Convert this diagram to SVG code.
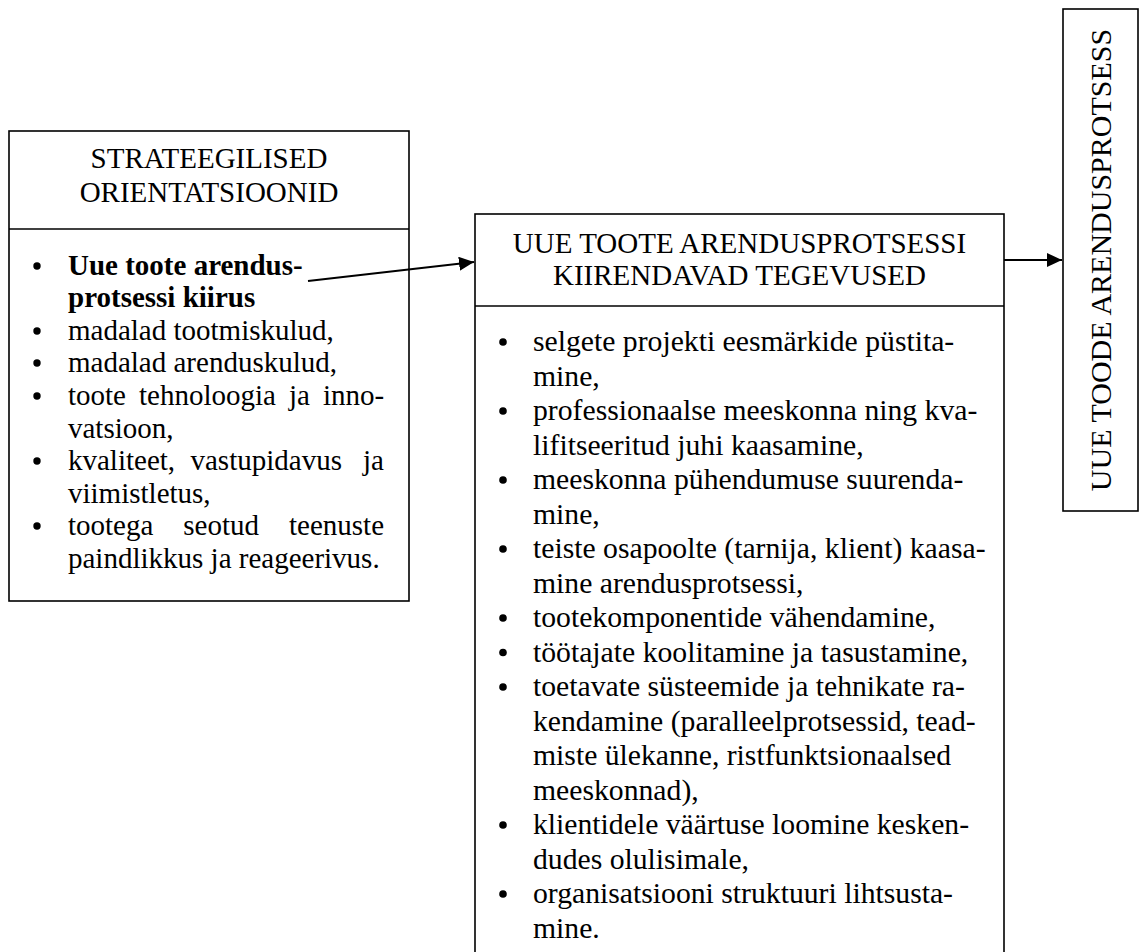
<svg xmlns="http://www.w3.org/2000/svg" width="1141" height="952" viewBox="0 0 1141 952">
  <style>
    .box { fill: #ffffff; stroke: #000000; stroke-width: 1.6; }
    .rule { stroke: #000000; stroke-width: 1.6; }
    .t { font-family: "Liberation Serif", "Times New Roman", serif; font-size: 29px; fill: #000000; }
    .tm { font-family: "Liberation Serif", "Times New Roman", serif; font-size: 29.7px; fill: #000000; }
    .tv { font-family: "Liberation Serif", "Times New Roman", serif; font-size: 30px; fill: #000000; }
    .c { text-anchor: middle; }
    .b { font-weight: bold; }
    .dot { fill: #000000; }
    .link { stroke: #000000; stroke-width: 2; fill: none; }
  </style>
  <defs>
    <marker id="arrow" markerUnits="userSpaceOnUse" markerWidth="16" markerHeight="16" refX="15" refY="7" orient="auto">
      <path d="M0,0 L15,7 L0,14 Z" fill="#000000"/>
    </marker>
  </defs>

  <rect width="1141" height="952" fill="#ffffff"/>

  <!-- Strategic orientations -->
  <g id="strategic-orientations">
    <rect class="box" x="9" y="131" width="400" height="470"/>
    <line class="rule" x1="9" y1="229" x2="409" y2="229"/>
    <text class="t c" x="209" y="168">STRATEEGILISED</text>
    <text class="t c" x="209" y="202">ORIENTATSIOONID</text>

    <circle class="dot" cx="37" cy="266" r="3.7"/>
    <text class="t b" x="68" y="275">Uue toote arendus-</text>
    <text class="t b" x="68" y="307">protsessi kiirus</text>

    <circle class="dot" cx="37" cy="331" r="3.7"/>
    <text class="t" x="68" y="340">madalad tootmiskulud,</text>

    <circle class="dot" cx="37" cy="363" r="3.7"/>
    <text class="t" x="68" y="372">madalad arenduskulud,</text>

    <circle class="dot" cx="37" cy="396" r="3.7"/>
    <text class="t"><tspan x="68" y="405">toote</tspan><tspan x="139" y="405">tehnoloogia</tspan><tspan x="289" y="405">ja</tspan><tspan x="323" y="405">inno-</tspan></text>
    <text class="t" x="68" y="438">vatsioon,</text>

    <circle class="dot" cx="37" cy="461" r="3.7"/>
    <text class="t"><tspan x="68" y="470">kvaliteet,</tspan><tspan x="190.5" y="470">vastupidavus</tspan><tspan x="363" y="470">ja</tspan></text>
    <text class="t" x="68" y="503">viimistletus,</text>

    <circle class="dot" cx="37" cy="526" r="3.7"/>
    <text class="t"><tspan x="68" y="535">tootega</tspan><tspan x="183.3" y="535">seotud</tspan><tspan x="289" y="535">teenuste</tspan></text>
    <text class="t" x="68" y="568">paindlikkus ja reageerivus.</text>
  </g>

  <!-- Activities that speed up product development -->
  <g id="accelerating-activities">
    <rect class="box" x="475" y="214" width="529" height="750"/>
    <line class="rule" x1="475" y1="306" x2="1004" y2="306"/>
    <text class="t c" x="739.5" y="253">UUE TOOTE ARENDUSPROTSESSI</text>
    <text class="t c" x="739.5" y="285">KIIRENDAVAD TEGEVUSED</text>

    <circle class="dot" cx="503" cy="342" r="3.8"/>
    <text class="tm" x="533" y="351">selgete projekti eesmärkide püstita-</text>
    <text class="tm" x="533" y="385.5">mine,</text>

    <circle class="dot" cx="503" cy="411" r="3.8"/>
    <text class="tm" x="533" y="420">professionaalse meeskonna ning kva-</text>
    <text class="tm" x="533" y="454.5">lifitseeritud juhi kaasamine,</text>

    <circle class="dot" cx="503" cy="480" r="3.8"/>
    <text class="tm" x="533" y="489">meeskonna pühendumuse suurenda-</text>
    <text class="tm" x="533" y="523.5">mine,</text>

    <circle class="dot" cx="503" cy="549" r="3.8"/>
    <text class="tm" x="533" y="558">teiste osapoolte (tarnija, klient) kaasa-</text>
    <text class="tm" x="533" y="592.5">mine arendusprotsessi,</text>

    <circle class="dot" cx="503" cy="618" r="3.8"/>
    <text class="tm" x="533" y="627">tootekomponentide vähendamine,</text>

    <circle class="dot" cx="503" cy="652.5" r="3.8"/>
    <text class="tm" x="533" y="661.5">töötajate koolitamine ja tasustamine,</text>

    <circle class="dot" cx="503" cy="687" r="3.8"/>
    <text class="tm" x="533" y="696">toetavate süsteemide ja tehnikate ra-</text>
    <text class="tm" x="533" y="730.5">kendamine (paralleelprotsessid, tead-</text>
    <text class="tm" x="533" y="765">miste ülekanne, ristfunktsionaalsed</text>
    <text class="tm" x="533" y="799.5">meeskonnad),</text>

    <circle class="dot" cx="503" cy="825" r="3.8"/>
    <text class="tm" x="533" y="834">klientidele väärtuse loomine kesken-</text>
    <text class="tm" x="533" y="868.5">dudes olulisimale,</text>

    <circle class="dot" cx="503" cy="894" r="3.8"/>
    <text class="tm" x="533" y="903">organisatsiooni struktuuri lihtsusta-</text>
    <text class="tm" x="533" y="937.5">mine.</text>
  </g>

  <!-- New product development process -->
  <g id="development-process">
    <rect class="box" x="1063" y="9" width="75" height="502"/>
    <text class="tv c" transform="translate(1110.5,260) rotate(-90)" x="0" y="0">UUE TOODE ARENDUSPROTSESS</text>
  </g>

  <!-- Connectors -->
  <g id="connectors">
    <line class="link" x1="308" y1="281" x2="474" y2="262" marker-end="url(#arrow)"/>
    <line class="link" x1="1004" y1="260" x2="1062" y2="260" marker-end="url(#arrow)"/>
  </g>
</svg>
